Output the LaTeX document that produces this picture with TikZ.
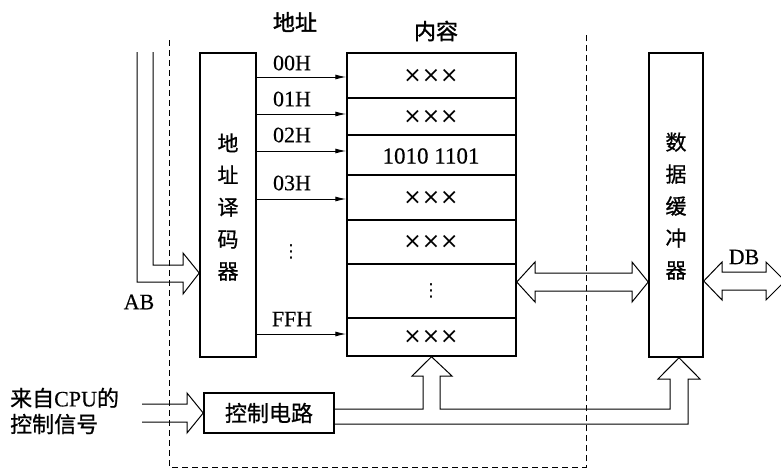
\documentclass[tikz,border=0pt]{standalone}
\usepackage{fontspec}
\setmainfont[FakeBold=0.4]{Liberation Serif}
\newfontfamily\cjk[FakeBold=0.8]{Noto Sans CJK SC}
\newfontfamily\cjkb[FakeBold=1.6]{Noto Sans CJK SC}
\newfontfamily\symf{DejaVu Sans}
\usetikzlibrary{arrows.meta,calc}
\begin{document}
\begin{tikzpicture}[x=1pt,y=-1pt,
  box/.style={draw,line width=1.5pt,inner sep=0pt},
  thinln/.style={line width=1pt,line join=miter},
  addr/.style={font=\fontsize{22}{22}\selectfont,inner sep=0pt},
  cell/.style={font=\symf\fontsize{22}{22}\selectfont,inner sep=0pt},
  num/.style={font=\fontsize{23}{23}\selectfont,inner sep=0pt},
  cn/.style={font=\cjk\fontsize{22}{22}\selectfont,inner sep=0pt},
  hd/.style={font=\cjkb\fontsize{22}{22}\selectfont,inner sep=0pt},
  vtxt/.style={font=\cjk\fontsize{21}{32}\selectfont,align=center,inner sep=0pt},
  bound/.style={dash pattern=on 6pt off 4pt,line width=1pt},
  sig/.style={-{Latex[length=11pt,width=5pt]},line width=1pt}]
\useasboundingbox (0,0) rectangle (781,472);

% boundary of the memory chip
\draw[bound] (169,40) -- (169,467) -- (586,467) -- (586,33);

% blocks
\node[box,minimum width=56pt,minimum height=304pt] (dec) at (228,205) {};
\node[vtxt] (dect) at (228,207) {地\\址\\译\\码\\器};
\node[box,minimum width=169pt,minimum height=303pt] (mem) at (431.5,204.5) {};
\node[box,minimum width=54pt,minimum height=304pt] (buf) at (676,205) {};
\node[vtxt] (buft) at (676,206) {数\\据\\缓\\冲\\器};
\node[box,minimum width=130pt,minimum height=40pt] (ctl) at (269,413) {};
\node[cn] (ctlt) at (269,413) {控制电路};

% memory rows
\foreach \yy in {98,135,175,220,264,318}
  \draw[line width=1.5pt] (mem.west |- 0,\yy) -- (mem.east |- 0,\yy);
\node[cell] (c0) at (431,76) {×××};
\node[cell] (c1) at (431,117) {×××};
\node[num] (c2) at (431,156) {1010 1101};
\node[cell] (c3) at (431,198) {×××};
\node[cell] (c4) at (431,242) {×××};
\node[font=\symf\fontsize{18}{18}\selectfont,inner sep=0pt] (c5) at (431,291) {⋮};
\node[cell] (c6) at (431,337) {×××};

% headings
\node[hd] (hAddr) at (295,22) {地址};
\node[hd] (hCont) at (436,31) {内容};

% address lines
\foreach \yy/\lab/\ly in {77/00H/63,114/01H/99,151/02H/135,199/03H/183,334/FFH/319}{
  \draw[sig] (dec.east |- 0,\yy) -- (mem.west |- 0,\yy);
  \node[addr] at (292,\ly) {\lab};
}
\node[font=\symf\fontsize{18}{18}\selectfont,inner sep=0pt] (adots) at (291,252) {⋮};

% address bus AB
\coordinate (abtip) at (dec.west |- 0,273);
\draw[thinln] (137,52) -- (137,282) -- (183,282) -- (183,294) -- (abtip)
  -- (183,253) -- (183,265) -- (153,265) -- (153,52);
\node[addr] (ab) at (139,302) {AB};

% control input
\draw[thinln] (142,404) -- (187,404) -- (187,393) -- (ctl.west)
  -- (187,433) -- (187,422) -- (142,422);
\node[cn,align=left,anchor=west,font=\cjk\fontsize{22}{26}\selectfont] (cpu) at (10,411)
  {来自{\rmfamily CPU}的\\控制信号};

% control bus to memory and buffer
\coordinate (btip) at (679,0 |- buf.south);
\draw[thinln] (ctl.east |- 0,409) -- (423,409) -- (423,376) -- (412,376) -- (mem.south)
  -- (452,376) -- (440,376) -- (440,409) -- (670,409) -- (670,379) -- (658,379)
  -- (btip) -- (700,379) -- (688,379) -- (688,424) -- (ctl.east |- 0,424);

% data path memory <-> buffer
\draw[thinln] (mem.east |- 0,282) -- (535,262) -- (535,273) -- (632,273) -- (632,262)
  -- (buf.west |- 0,282) -- (632,302) -- (632,291) -- (535,291) -- (535,302) -- cycle;

% DB
\coordinate (dbend) at (785,281);
\draw[thinln] (buf.east |- 0,281) -- (722,262) -- (722,272) -- (766,272) -- (766,262)
  -- (dbend) -- (766,300) -- (766,290) -- (722,290) -- (722,300) -- cycle;
\node[addr] (db) at (744,257) {DB};
\end{tikzpicture}
\end{document}
